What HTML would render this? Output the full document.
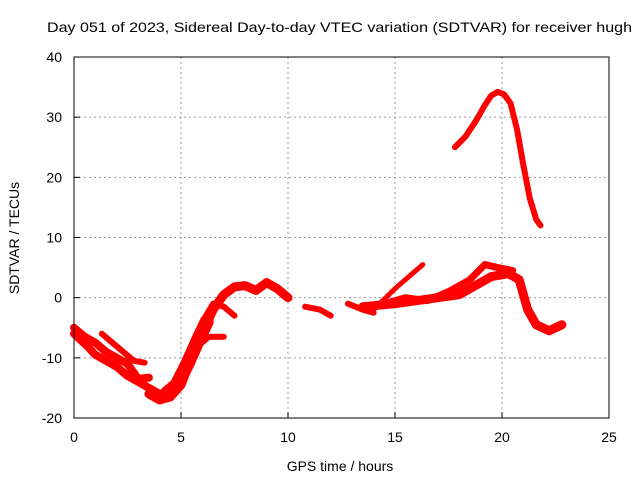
<!DOCTYPE html>
<html><head><meta charset="utf-8"><style>
body{margin:0;background:#fff}
svg{display:block;font-family:"Liberation Sans",sans-serif;font-size:14px}
</style></head><body>
<svg id="c" width="640" height="480">
<text x="47" y="32" textLength="585" lengthAdjust="spacingAndGlyphs">Day 051 of 2023, Sidereal Day-to-day VTEC variation (SDTVAR) for receiver hugh</text>
<text x="340" y="471" text-anchor="middle">GPS time / hours</text>
<text transform="translate(19,238) rotate(-90)" text-anchor="middle">SDTVAR / TECUs</text>
<g id="grid"></g><g id="marks"></g>
<rect x="74" y="57" width="535" height="361" fill="none" stroke="#000" stroke-width="1"/>
</svg>
<script>
const xTicks=[0,5,10,15,20,25];
const yTicks=[-20,-10,0,10,20,30,40];
const seriesArc=[[17.8,25],[18.3,26.8],[18.8,29.5],[19.2,32],[19.5,33.6],[19.8,34.2],[20.1,33.8],[20.4,32.3],[20.7,28],[21.0,22],[21.3,16.5],[21.6,13],[21.8,12]];
const seriesLeftA=[[0,-5],[0.5,-6.5],[1,-7.5],[1.5,-9],[2,-10],[2.5,-11],[3,-13.5],[3.5,-13.3]];
const seriesLeftB=[[0,-6],[0.6,-8],[1,-9.5],[1.5,-10.5],[2,-11.5],[2.5,-13],[3,-14],[3.5,-15],[4,-16],[4.3,-16]];
const seriesLeftC=[[1.3,-6],[1.8,-7.5],[2.3,-9],[2.8,-10.5],[3.3,-10.8]];
const seriesMain=[[3.5,-16],[4,-17],[4.5,-16.5],[5,-14.5],[5.5,-10],[6,-6],[6.5,-2],[7,0.5],[7.5,1.8],[8,2],[8.5,1.2],[9,2.5],[9.5,1.5],[10,0]];
const seriesBand=[[4.3,-16],[4.8,-14.5],[5.3,-11],[5.8,-7],[6.2,-4]];
const seriesBranchA=[[6,-4],[6.5,-1],[7,-1.5],[7.5,-3]];
const seriesBranchB=[[5.8,-8],[6.3,-6.5],[7,-6.5]];
const seriesMidA=[[10.8,-1.5],[11.5,-2],[12,-3]];
const seriesMidB=[[12.8,-1],[13.5,-2],[14,-2.5]];
const seriesLower=[[13.5,-1.5],[15,-1],[16,-0.5],[17,0],[18,0.5],[18.5,1.5],[19,2.5],[19.5,3.5],[20.3,4],[20.8,3],[21.2,-2],[21.6,-4.5],[22.2,-5.5],[22.8,-4.5]];
const seriesUpper=[[14.5,-1],[15.5,0],[16.5,-0.5],[17.5,1],[18.5,3],[19.2,5.5],[19.8,5],[20.5,4.5]];
const seriesDiag=[[14,-2],[15,1.5],[16.3,5.5]];
const allSeries=[[seriesArc,6],[seriesLeftA,8],[seriesLeftB,8],[seriesLeftC,6],[seriesMain,9],[seriesBand,14],[seriesBranchA,6],[seriesBranchB,6],[seriesMidA,6],[seriesMidB,6],[seriesLower,9],[seriesUpper,7],[seriesDiag,5]];
const X=h=>74+h*535/25, Y=v=>418-(v+20)*361/60;
const NS="http://www.w3.org/2000/svg";
const g=document.getElementById('grid'), m=document.getElementById('marks');
function el(t,a,p){const e=document.createElementNS(NS,t);for(const k in a)e.setAttribute(k,a[k]);p.appendChild(e);return e;}
xTicks.forEach(t=>{
 if(t>0&&t<25){const l=el('line',{x1:X(t),x2:X(t),y1:57,y2:418,stroke:'#999','stroke-dasharray':'2,3'},g);
 
 }
 const k=el('line',{x1:X(t),x2:X(t),y1:418,y2:412,stroke:'#000'},g);
 
 
 const tx=el('text',{x:X(t),y:442,'text-anchor':'middle'},g);tx.textContent=t;
 
 
});
yTicks.forEach(t=>{
 if(t>-20&&t<40){const l=el('line',{x1:74,x2:609,y1:Y(t),y2:Y(t),stroke:'#999','stroke-dasharray':'2,3'},g);
 
 }
 const k=el('line',{x1:74,x2:80,y1:Y(t),y2:Y(t),stroke:'#000'},g);
 
 
 const tx=el('text',{x:62,y:Y(t)+5,'text-anchor':'end'},g);tx.textContent=t;
 
 
});
allSeries.forEach(([s,w])=>{
 const p=el('polyline',{points:s.map(d=>X(d[0])+','+Y(d[1])).join(' '),fill:'none',stroke:'#f00','stroke-width':w,'stroke-linejoin':'round','stroke-linecap':'round'},m);
 
 
});
</script>
</body></html>
